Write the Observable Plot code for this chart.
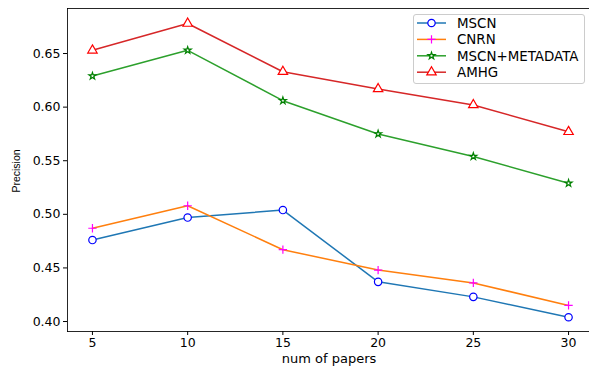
<!DOCTYPE html>
<html>
<head>
<meta charset="utf-8">
<script src="https://cdn.jsdelivr.net/npm/d3@7"></script>
<script src="https://cdn.jsdelivr.net/npm/@observablehq/plot@0.6"></script>
<style>
  html, body { margin: 0; padding: 0; background: #fff; }
  #chart svg { display: block; }
</style>
</head>
<body>
<div id="chart"></div>
<script>
const numPapers = [5, 10, 15, 20, 25, 30];
const seriesNames = ["MSCN", "CNRN", "MSCN+METADATA", "AMHG"];
const mscn = [0.476, 0.497, 0.504, 0.437, 0.423, 0.404];
const cnrn = [0.487, 0.508, 0.467, 0.448, 0.436, 0.415];
const mscnMeta = [0.629, 0.653, 0.606, 0.575, 0.554, 0.529];
const amhg = [0.653, 0.678, 0.633, 0.617, 0.602, 0.577];
const yTicks = [0.40, 0.45, 0.50, 0.55, 0.60, 0.65];

const styles = {
  "MSCN": {line: "#1f77b4", symbol: "circle", mstroke: "#0000ff", mfill: "white", r: 3.7},
  "CNRN": {line: "#ff7f0e", symbol: "plus", mstroke: "#ff00ff", mfill: "none", r: 2.8},
  "MSCN+METADATA": {line: "#2ca02c", symbol: "star", mstroke: "#008000", mfill: "white", r: 2.2},
  "AMHG": {line: "#d62728", symbol: "triangle", mstroke: "#ff0000", mfill: "white", r: 3.5}
};
const valuesBySeries = {"MSCN": mscn, "CNRN": cnrn, "MSCN+METADATA": mscnMeta, "AMHG": amhg};

const marks = [];
for (const name of seriesNames) {
  const st = styles[name];
  const rows = numPapers.map((n, i) => ({n, v: valuesBySeries[name][i]}));
  marks.push(Plot.line(rows, {x: "n", y: "v", stroke: st.line, strokeWidth: 1.5}));
  marks.push(Plot.dot(rows, {x: "n", y: "v", symbol: st.symbol, r: st.r, stroke: st.mstroke, fill: st.mfill, strokeWidth: 1.2}));
}

const W = 589, H = 369;
const plot = Plot.plot({
  width: W,
  height: H,
  marginLeft: 67,
  marginRight: 0,
  marginTop: 8,
  marginBottom: 38,
  style: {fontFamily: "DejaVu Sans", fontSize: "12.5px", color: "#000", background: "white"},
  x: {domain: [3.69, 31.1]},
  y: {domain: [0.3907, 0.692]},
  marks: [
    Plot.frame({anchor: "top", stroke: "#000", strokeOpacity: 0.85}),
    Plot.frame({anchor: "left", stroke: "#000", strokeOpacity: 0.85}),
    Plot.frame({anchor: "bottom", stroke: "#000", strokeOpacity: 0.85}),
    Plot.axisX(numPapers, {tickSize: 4, tickPadding: 3, fontSize: 12.5, label: null}),
    Plot.axisY(yTicks, {tickSize: 4, tickPadding: 3, fontSize: 12.5, label: null, tickFormat: d3.format(".2f")}),
    ...marks
  ]
});
document.getElementById("chart").appendChild(plot);

const svg = d3.select(plot);
// axis titles
svg.append("text").attr("x", 329).attr("y", 363)
  .attr("text-anchor", "middle").attr("font-family", "DejaVu Sans").attr("font-size", 13)
  .text("num of papers");
svg.append("text").attr("transform", "translate(20,171) rotate(-90)")
  .attr("text-anchor", "middle").attr("font-family", "Liberation Sans").attr("font-size", 10.5)
  .text("Precision");

// legend
const lg = svg.append("g");
lg.append("rect").attr("x", 413.5).attr("y", 14.5).attr("width", 171).attr("height", 69)
  .attr("rx", 2.5).attr("fill", "white").attr("fill-opacity", 0.8).attr("stroke", "#cccccc");
const symMap = {circle: d3.symbolCircle, plus: d3.symbolPlus, star: d3.symbolStar, triangle: d3.symbolTriangle};
seriesNames.forEach((name, i) => {
  const st = styles[name];
  const y = 23 + i * 16.4;
  lg.append("line").attr("x1", 417).attr("x2", 446).attr("y1", y).attr("y2", y)
    .attr("stroke", st.line).attr("stroke-width", 1.5);
  lg.append("path").attr("transform", `translate(431.5,${y})`)
    .attr("d", d3.symbol(symMap[st.symbol], st.r * st.r * Math.PI)())
    .attr("stroke", st.mstroke).attr("fill", st.mfill).attr("stroke-width", 1.2);
  lg.append("text").attr("x", 457).attr("y", y).attr("dy", "0.36em")
    .attr("text-anchor", "start")
    .attr("font-family", "DejaVu Sans").attr("font-size", 13.4).text(name);
});
</script>
</body>
</html>
